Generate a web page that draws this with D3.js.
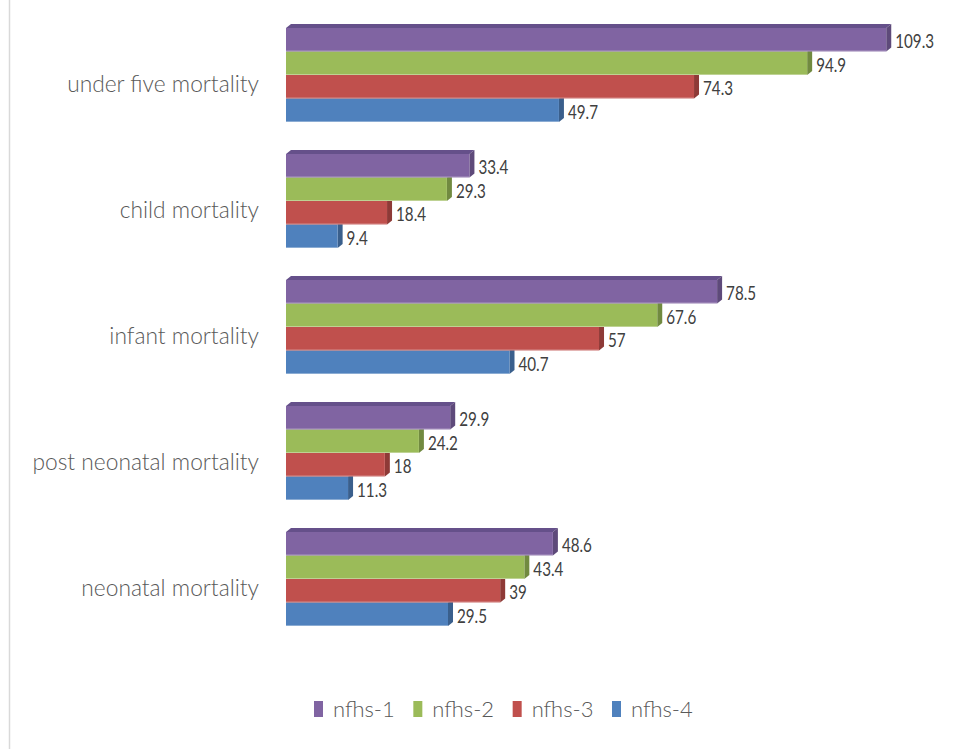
<!DOCTYPE html>
<html>
<head>
<meta charset="utf-8">
<script src="https://cdn.jsdelivr.net/npm/d3@7"></script>
<style>
  html, body { margin: 0; padding: 0; background: #fff; }
  svg { display: block; }
  text { font-family: Lato, "Open Sans", sans-serif; }
</style>
</head>
<body>
<svg id="chart" width="974" height="749"></svg>
<script>
// ---- data ----
const categories = ["under five mortality", "child mortality", "infant mortality", "post neonatal mortality", "neonatal mortality"];
const seriesNames = ["nfhs-1", "nfhs-2", "nfhs-3", "nfhs-4"];
const nfhs1 = [109.3, 33.4, 78.5, 29.9, 48.6];
const nfhs2 = [94.9, 29.3, 67.6, 24.2, 43.4];
const nfhs3 = [74.3, 18.4, 57, 18, 39];
const nfhs4 = [49.7, 9.4, 40.7, 11.3, 29.5];
const seriesValues = [nfhs1, nfhs2, nfhs3, nfhs4];

// ---- styles ----
const frontColors = ["#8064A2", "#9BBB59", "#C0504D", "#4F81BD"];
const sideColors  = ["#5E4A7A", "#718A40", "#8E3A37", "#3A5F8C"];
const topColors   = ["#65508A", "#7D9848", "#A04340", "#41689A"];
const depthX = 5, depthY = -4;

const svg = d3.select("#chart");

// left border line
svg.append("line").attr("x1", 9.5).attr("x2", 9.5).attr("y1", 0).attr("y2", 749)
  .attr("stroke", "#d9d9d9").attr("stroke-width", 1.5);

const x = d3.scaleLinear().domain([0, 120]).range([286, 945]);
const y = d3.scaleBand().domain(categories).range([12, 642]).paddingInner(0.254).paddingOuter(0.127);
const ySub = d3.scaleBand().domain(seriesNames).range([0, y.bandwidth()]);

const rows = [];
categories.forEach((c, ci) => {
  seriesNames.forEach((s, si) => {
    rows.push({cat: c, series: s, si: si, value: seriesValues[si][ci]});
  });
});
// draw bottom bar of each group first so upper bars cover hidden faces
rows.sort((a, b) => b.si - a.si);

const bars = svg.append("g").selectAll("g.bar").data(rows).join("g").attr("class", "bar");

bars.each(function(d) {
  const g = d3.select(this);
  const x0 = x(0), x1 = x(d.value);
  const y0 = y(d.cat) + ySub(d.series);
  const h = ySub.bandwidth();
  g.append("path")
    .attr("d", `M${x0},${y0} L${x0 + depthX},${y0 + depthY} L${x1 + depthX},${y0 + depthY} L${x1},${y0} Z`)
    .attr("fill", topColors[d.si]);
  g.append("path")
    .attr("d", `M${x1},${y0} L${x1 + depthX},${y0 + depthY} L${x1 + depthX},${y0 + h + depthY} L${x1},${y0 + h} Z`)
    .attr("fill", sideColors[d.si]);
  g.append("rect")
    .attr("x", x0).attr("y", y0).attr("width", x1 - x0).attr("height", h)
    .attr("fill", frontColors[d.si]);
  g.append("line")
    .attr("x1", x0).attr("x2", x1).attr("y1", y0 + h - 0.5).attr("y2", y0 + h - 0.5)
    .attr("stroke", "#ffffff").attr("stroke-opacity", 0.35).attr("stroke-width", 1);
});

// value labels
svg.append("g").selectAll("text").data(rows).join("text")
  .attr("transform", d => `translate(${x(d.value) + depthX + 4},${y(d.cat) + ySub(d.series) + ySub.bandwidth() / 2 + 8.5}) scale(0.8,1)`)
  .attr("font-size", 19)
  .attr("fill", "#404040")
  .text(d => d.value);

// category labels
svg.append("g").selectAll("text").data(categories).join("text")
  .attr("transform", d => `translate(259,${y(d) + y.bandwidth() / 2 + 17}) scale(0.99,1)`)
  .attr("text-anchor", "end")
  .attr("font-size", 23)
  .attr("font-weight", 300)
  .attr("fill", "#595959")
  .text(d => d);

// legend
const legendX = d3.scalePoint().domain(seriesNames).range([314, 612]);
const legend = svg.append("g").selectAll("g").data(seriesNames).join("g")
  .attr("transform", d => `translate(${legendX(d)},0)`);
legend.append("rect")
  .attr("x", 0).attr("y", 701).attr("width", 9).attr("height", 16)
  .attr("fill", (d, i) => frontColors[i]);
legend.append("text")
  .attr("transform", "translate(19,717) scale(1,1)")
  .attr("font-size", 22)
  .attr("font-weight", 300)
  .attr("fill", "#595959")
  .text(d => d);
</script>
</body>
</html>
